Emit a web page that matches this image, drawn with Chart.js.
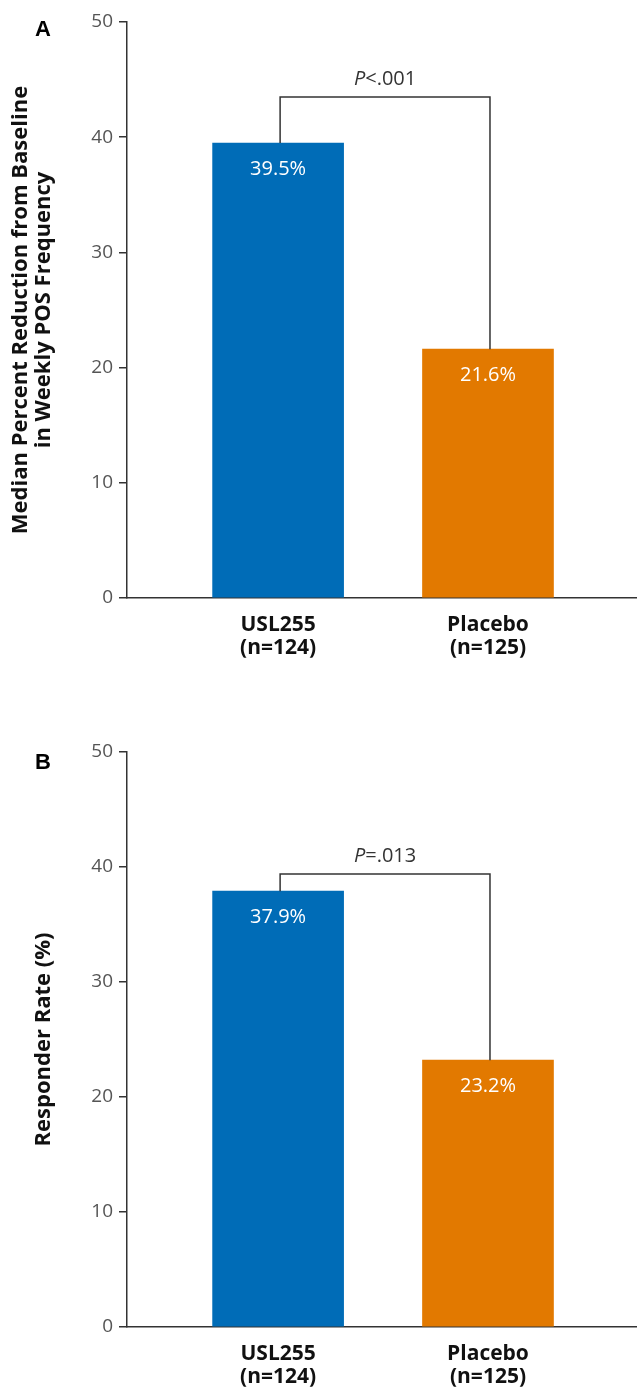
<!DOCTYPE html>
<html>
<head>
<meta charset="utf-8">
<script src="https://cdn.jsdelivr.net/npm/chart.js@4.4.1/dist/chart.umd.min.js"></script>
<style>
  html, body { margin: 0; padding: 0; background: #fff; }
  body { width: 637px; height: 1389px; position: relative; overflow: hidden; }
  canvas { position: absolute; left: 0; }
  #c1 { top: 0; }
  #c2 { top: 690px; }
</style>
</head>
<body>
<canvas id="c1" width="637" height="690"></canvas>
<canvas id="c2" width="637" height="699"></canvas>
<script>
const categories = ['USL255', 'Placebo'];
const sampleSizes = ['(n=124)', '(n=125)'];
const medianReduction = [39.5, 21.6];
const responderRate = [37.9, 23.2];
const yTicks = [0, 10, 20, 30, 40, 50];
const pTexts = ['<.001', '=.013'];
const bracketLevels = [43.5, 39.4];
const panelLetters = ['A', 'B'];
const yTitles = [['Median Percent Reduction from Baseline', 'in Weekly POS Frequency'], 'Responder Rate (%)'];

const BLUE = '#006cb7';
const ORANGE = '#e27900';
const AXIS = '#333333';

const annot = {
  id: 'annot',
  afterDatasetsDraw(chart, args, opts) {
    const { ctx, scales: { x, y } } = chart;
    const vals = opts.values;
    ctx.save();
    // bar value labels
    ctx.fillStyle = '#ffffff';
    ctx.font = '20px "Open Sans"';
    ctx.textAlign = 'center';
    ctx.textBaseline = 'middle';
    chart.getDatasetMeta(0).data.forEach((bar, i) => {
      ctx.fillText(vals[i].toFixed(1) + '%', bar.x, bar.y + 26);
    });
    // bracket
    const x1 = x.getPixelForValue(1) + 2;
    const x2 = x.getPixelForValue(2) + 2;
    const yb = y.getPixelForValue(opts.bracket);
    ctx.strokeStyle = AXIS;
    ctx.lineWidth = 1.5;
    ctx.beginPath();
    ctx.moveTo(x1, y.getPixelForValue(vals[0]));
    ctx.lineTo(x1, yb);
    ctx.lineTo(x2, yb);
    ctx.lineTo(x2, y.getPixelForValue(vals[1]));
    ctx.stroke();
    // P text
    const italic = 'italic 20px "Open Sans"';
    const normal = '20px "Open Sans"';
    ctx.fillStyle = '#333333';
    ctx.font = italic; const wP = ctx.measureText('P').width;
    ctx.font = normal; const wR = ctx.measureText(opts.p).width;
    const cx = (x1 + x2) / 2;
    const startX = cx - (wP + wR) / 2;
    const ty = yb - 18;
    ctx.textAlign = 'left';
    ctx.font = italic; ctx.fillText('P', startX, ty);
    ctx.font = normal; ctx.fillText(opts.p, startX + wP, ty);
    // panel letter
    ctx.fillStyle = '#000';
    ctx.font = 'bold 22px "Liberation Sans", Arial, sans-serif';
    ctx.textAlign = 'center';
    ctx.fillText(opts.letter, 43, opts.letterY);
    ctx.restore();
  }
};

function makeChart(id, values, idx, padTop, xHeight, titlePad, letterY) {
  return new Chart(document.getElementById(id), {
    type: 'bar',
    data: {
      datasets: [{
        data: values.map((v, i) => ({ x: i + 1, y: v })),
        backgroundColor: [BLUE, ORANGE],
        borderWidth: 0,
        barThickness: 131
      }]
    },
    options: {
      responsive: false,
      animation: false,
      events: [],
      layout: { padding: { top: padTop, right: 0, left: 0, bottom: 0 } },
      plugins: {
        legend: { display: false },
        tooltip: { enabled: false },
        annot: { values: values, bracket: bracketLevels[idx], p: pTexts[idx], letter: panelLetters[idx], letterY: letterY }
      },
      scales: {
        x: {
          type: 'linear',
          offset: false,
          min: 0.28,
          max: 2.71,
          afterBuildTicks: (s) => { s.ticks = categories.map((c, i) => ({ value: i + 1 })); },
          afterFit: (s) => { s.height = xHeight; },
          grid: { display: false, drawTicks: false, offset: false },
          border: { display: true, color: AXIS, width: 1.5 },
          ticks: {
            padding: 16,
            color: '#111',
            font: { family: '"Open Sans"', size: 21, weight: 'bold', lineHeight: 1.08 },
            callback: (v) => { const i = Math.round(v) - 1; return [categories[i], sampleSizes[i]]; }
          }
        },
        y: {
          min: 0,
          max: 50,
          afterBuildTicks: (s) => { s.ticks = yTicks.map(v => ({ value: v })); },
          afterFit: (s) => { s.width = 127; },
          grid: { drawOnChartArea: false, drawTicks: true, tickLength: 8, color: AXIS, lineWidth: 1.5 },
          border: { display: true, color: AXIS, width: 1.5 },
          ticks: {
            padding: 6,
            color: '#555555',
            font: { family: '"Open Sans"', size: 19, weight: 'normal' }
          },
          title: {
            display: true,
            text: yTitles[idx],
            color: '#111',
            padding: { top: titlePad, bottom: 0 },
            font: { family: '"Open Sans"', size: 22, weight: 'bold', lineHeight: 1.02 }
          }
        }
      }
    },
    plugins: [annot]
  });
}

makeChart('c1', medianReduction, 0, 22, 92, 10, 30);
makeChart('c2', responderRate, 1, 62, 62, 33, 73);
</script>
</body>
</html>
